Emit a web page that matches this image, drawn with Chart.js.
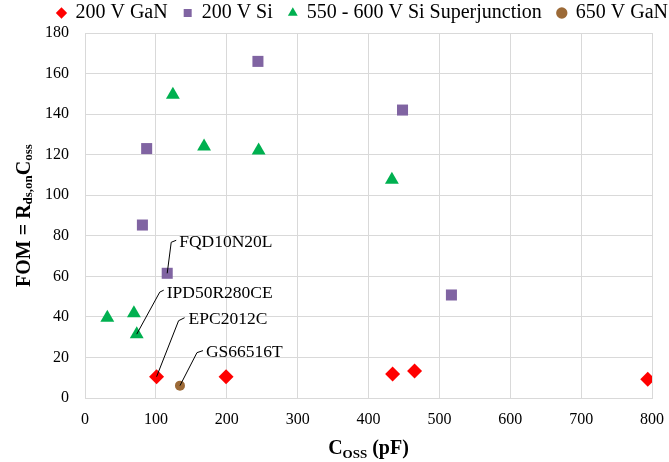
<!DOCTYPE html>
<html>
<head>
<meta charset="utf-8">
<script src="https://cdn.jsdelivr.net/npm/chart.js@4.4.0/dist/chart.umd.min.js"></script>
<style>
  html, body { margin: 0; padding: 0; background: #fff; }
  #wrap { width: 669px; height: 462px; }
</style>
</head>
<body>
<div id="wrap"><canvas id="fom_chart"></canvas></div>
<script>
// data
const seriesNames = ['200 V GaN', '200 V Si', '550 - 600 V Si Superjunction', '650 V GaN'];

const gan200X = [101, 199, 434, 465, 794];
const gan200Y = [10.5, 10.5, 11.8, 13.3, 9.2];

const si200X = [244, 448, 87, 81, 116, 517];
const si200Y = [166, 142, 123, 85.3, 61.5, 50.8];

const sjX = [31.5, 69, 73, 124, 168, 245, 433];
const sjY = [39.6, 41.8, 31.5, 149.5, 124, 122, 107.6];

const gan650X = [134];
const gan650Y = [6.1];

const xTicks = [0, 100, 200, 300, 400, 500, 600, 700, 800];
const yTicks = [0, 20, 40, 60, 80, 100, 120, 140, 160, 180];

// part labels: [text, dataset index, point index]
const partNames = [
  ['FQD10N20L', 1, 4],
  ['IPD50R280CE', 2, 2],
  ['EPC2012C', 0, 0],
  ['GS66516T', 3, 0]
];

function toPoints(xs, ys) {
  return xs.map(function (x, i) { return { x: x, y: ys[i] }; });
}

const FONT = "'Liberation Serif', 'Times New Roman', serif";

// leader line offsets (bend, end, text) for each label, in pixels
const leaderOffsets = [
  [[4, -31], [9, -33], [12, -31]],
  [[23, -42], [27, -44], [30, -41]],
  [[22, -56], [28, -59], [32, -57]],
  [[17, -33], [23, -35], [26, -33]]
];

const partLabelPlugin = {
  id: 'partLabels',
  afterDatasetsDraw: function (chart) {
    const ctx = chart.ctx;
    ctx.save();
    ctx.strokeStyle = '#000';
    ctx.lineWidth = 1;
    ctx.fillStyle = '#000';
    ctx.font = '17.5px ' + FONT;
    ctx.textBaseline = 'middle';
    ctx.textAlign = 'left';
    partNames.forEach(function (p, i) {
      const el = chart.getDatasetMeta(p[1]).data[p[2]];
      const o = leaderOffsets[i];
      ctx.beginPath();
      ctx.moveTo(el.x, el.y);
      ctx.lineTo(el.x + o[0][0], el.y + o[0][1]);
      ctx.lineTo(el.x + o[1][0], el.y + o[1][1]);
      ctx.stroke();
      ctx.fillText(p[0], el.x + o[2][0], el.y + o[2][1]);
    });
    ctx.restore();
  }
};

// axis titles with subscripts
function drawPieces(ctx, pieces, cx, baseY) {
  let total = 0;
  pieces.forEach(function (p) {
    ctx.font = 'bold ' + p[1] + 'px ' + FONT;
    p.w = ctx.measureText(p[0]).width;
    total += p.w;
  });
  let x = cx - total / 2;
  pieces.forEach(function (p) {
    ctx.font = 'bold ' + p[1] + 'px ' + FONT;
    ctx.fillText(p[0], x, baseY + p[2]);
    x += p.w;
  });
}

const axisTitlePlugin = {
  id: 'axisTitles',
  afterDraw: function (chart) {
    const ctx = chart.ctx;
    const area = chart.chartArea;
    ctx.save();
    ctx.fillStyle = '#000';
    ctx.textBaseline = 'alphabetic';
    ctx.textAlign = 'left';
    // x title
    drawPieces(ctx, [['C', 20, 0], ['OSS', 13, 4], [' (pF)', 20, 0]],
      (area.left + area.right) / 2, 454);
    // y title
    ctx.translate(30, (area.top + area.bottom) / 2);
    ctx.rotate(-Math.PI / 2);
    drawPieces(ctx, [['FOM = R', 20, 0], ['ds,on', 13, 2], ['C', 20, 0], ['oss', 13, 2]], 0, 0);
    ctx.restore();
  }
};

var context = document.getElementById('fom_chart').getContext('2d');
var fom_chart = new Chart(context, {
  type: 'scatter',
  data: {
    datasets: [
      {
        label: seriesNames[0],
        data: toPoints(gan200X, gan200Y),
        pointStyle: 'rectRot',
        pointRadius: 7.5,
        backgroundColor: '#ff0000',
        borderColor: '#ff0000',
        borderWidth: 0
      },
      {
        label: seriesNames[1],
        data: toPoints(si200X, si200Y),
        pointStyle: 'rect',
        pointRadius: 7.8,
        backgroundColor: '#8064a2',
        borderColor: '#8064a2',
        borderWidth: 0
      },
      {
        label: seriesNames[2],
        data: toPoints(sjX, sjY),
        pointStyle: 'triangle',
        pointRadius: 8,
        backgroundColor: '#00b050',
        borderColor: '#00b050',
        borderWidth: 0
      },
      {
        label: seriesNames[3],
        data: toPoints(gan650X, gan650Y),
        pointStyle: 'circle',
        pointRadius: 5,
        backgroundColor: '#9c6a37',
        borderColor: '#9c6a37',
        borderWidth: 0
      }
    ]
  },
  options: {
    responsive: true,
    maintainAspectRatio: false,
    animation: false,
    layout: { padding: { left: 0, right: -15, top: -13, bottom: 0 } },
    plugins: {
      legend: {
        position: 'top',
        align: 'end',
        labels: {
          usePointStyle: true,
          boxWidth: 8,
          boxHeight: 8,
          padding: 16,
          color: '#000',
          font: { family: FONT, size: 20 }
        }
      },
      tooltip: { enabled: false }
    },
    scales: {
      x: {
        type: 'linear',
        min: 0,
        max: 800,
        afterBuildTicks: function (axis) { axis.ticks = xTicks.map(function (v) { return { value: v }; }); },
        afterFit: function (axis) { axis.height = 64; },
        grid: { color: '#d9d9d9', drawTicks: true, tickLength: 10, tickColor: 'rgba(0,0,0,0)' },
        border: { color: '#d9d9d9' },
        ticks: { color: '#000', padding: 2, font: { family: FONT, size: 16 } }
      },
      y: {
        type: 'linear',
        min: 0,
        max: 180,
        afterBuildTicks: function (axis) { axis.ticks = yTicks.map(function (v) { return { value: v }; }); },
        afterFit: function (axis) { axis.width = 85; },
        grid: { color: '#d9d9d9', drawTicks: true, tickLength: 14, tickColor: 'rgba(0,0,0,0)' },
        border: { color: '#d9d9d9' },
        ticks: { color: '#000', padding: 2, font: { family: FONT, size: 16 } }
      },
      // empty axis that only keeps the right margin
      yRight: {
        type: 'linear',
        position: 'right',
        display: true,
        afterFit: function (axis) { axis.width = 32; },
        grid: { display: false, drawTicks: false },
        border: { display: false },
        ticks: { display: false }
      }
    }
  },
  plugins: [partLabelPlugin, axisTitlePlugin]
});
</script>
</body>
</html>
